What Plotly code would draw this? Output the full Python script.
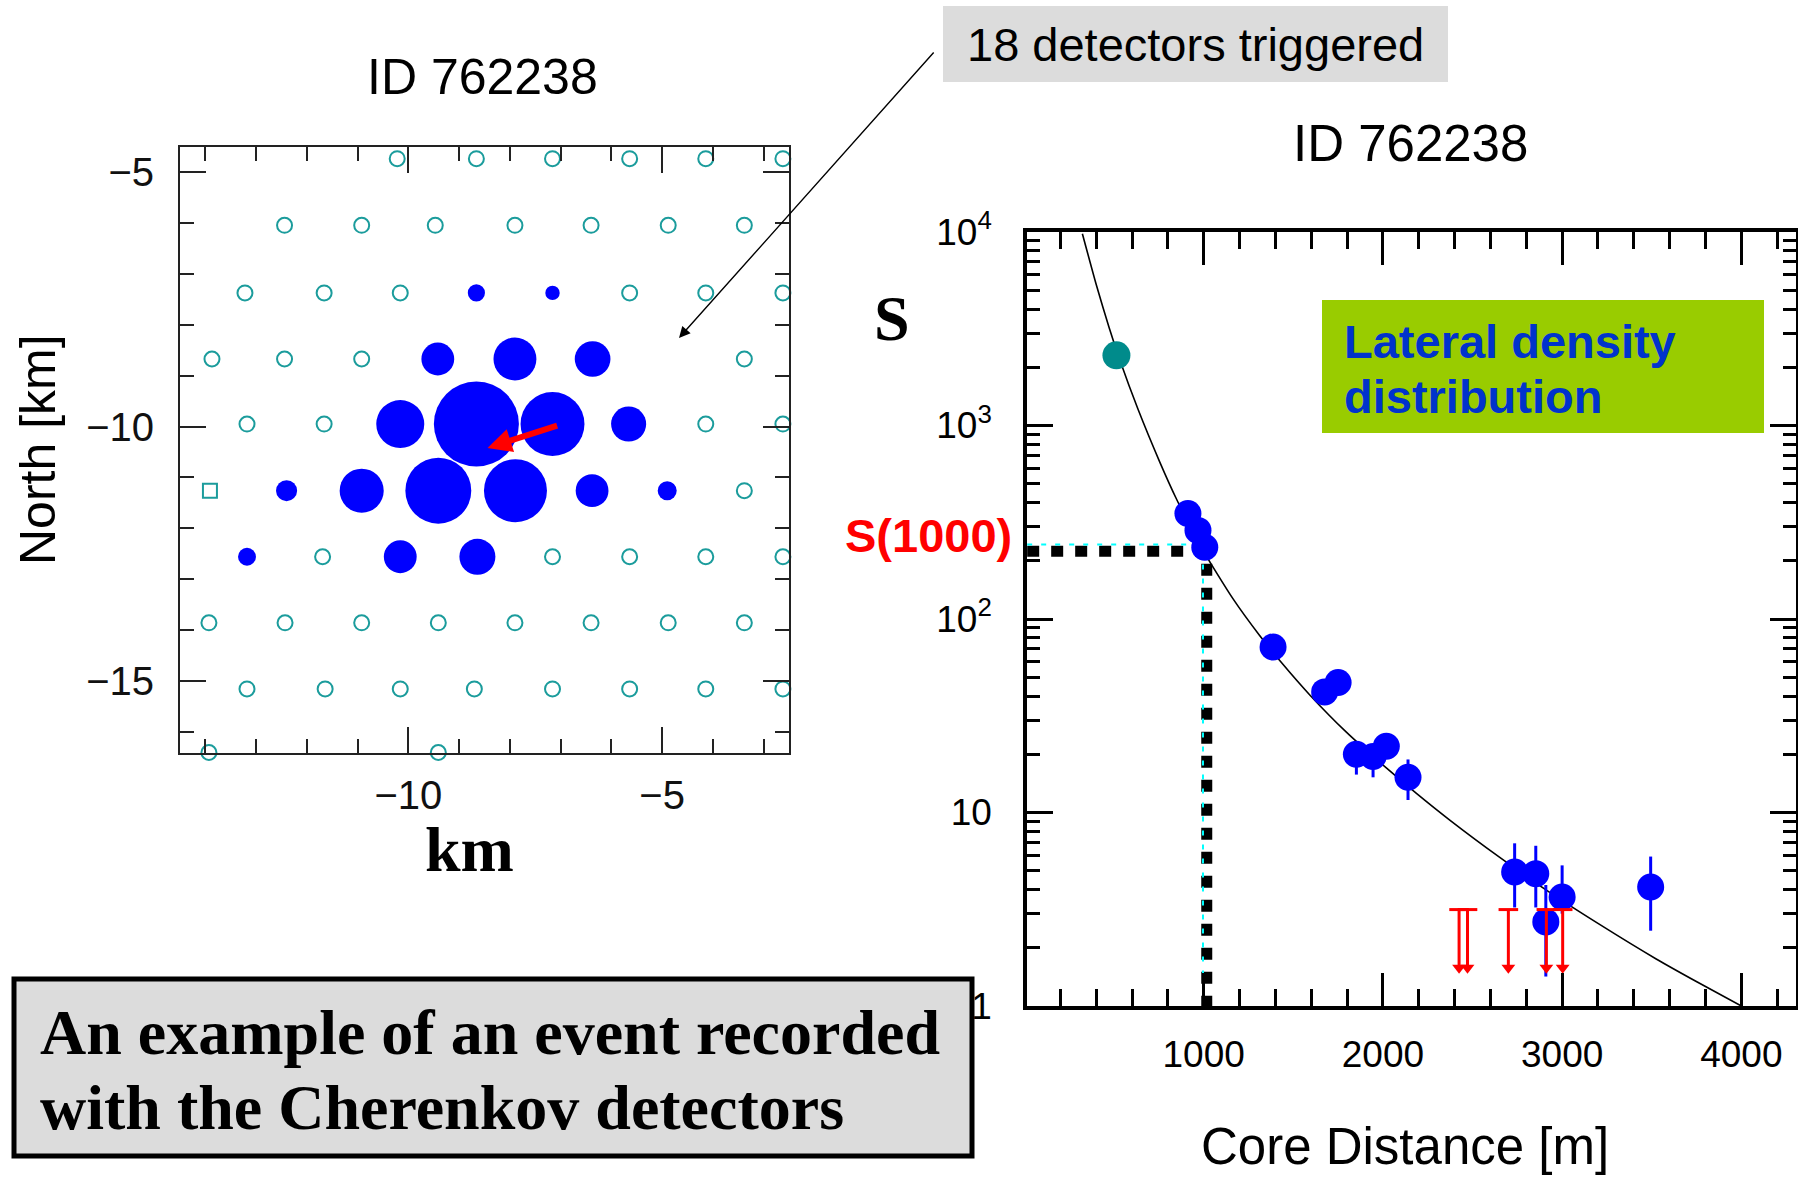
import math
import plotly.graph_objects as go

W, H = 1798, 1179

# ---------------- surface detector map (km) ----------------
idle_east = [-10.22, -8.66, -7.16, -5.64, -4.14, -2.62,
             -12.44, -10.92, -9.47, -7.90, -6.40, -4.88, -3.38,
             -13.22, -11.66, -10.16, -5.64, -4.14, -2.62,
             -13.87, -12.44, -10.92, -3.38,
             -13.18, -11.66, -4.14, -2.62,
             -3.38,
             -11.69, -7.16, -5.64, -4.14, -2.62,
             -13.93, -12.43, -10.92, -9.41, -7.90, -6.40, -4.88, -3.38,
             -13.18, -11.64, -10.16, -8.70, -7.16, -5.64, -4.14, -2.62,
             -13.93, -9.41]
idle_north = [-4.73] * 6 + [-6.04] * 7 + [-7.37] * 6 + [-8.67] * 4 + [-9.95] * 4 + \
             [-11.26] * 1 + [-12.56] * 5 + [-13.86] * 8 + [-15.16] * 8 + [-16.41] * 2
odd_east = [-13.91]
odd_north = [-11.26]

trig_east = [-8.66, -7.16,
             -9.42, -7.90, -6.37,
             -10.16, -8.66, -7.16, -5.66,
             -12.40, -10.92, -9.41, -7.89, -6.38, -4.90,
             -13.18, -10.16, -8.64]
trig_north = [-7.37] * 2 + [-8.67] * 3 + [-9.95] * 4 + [-11.26] * 6 + [-12.56] * 3
trig_vem = [2.5, 1.9,
            12, 33, 16,
            55, 2230, 270, 15,
            3.7, 37, 330, 246, 12, 3.0,
            2.7, 12, 16.5]

# shower axis direction (tail -> head, km)
axis_tail = (-7.04, -9.97)
axis_head = (-8.44, -10.42)

# ---------------- lateral distribution ----------------
sat_r = [513]
sat_s = [2306]

r_hit = [912, 968, 1006, 1387, 1675, 1750, 1852, 1945, 2019, 2140,
         2735, 2853, 2909, 3000, 3494]
s_hit = [351, 287, 235, 71.6, 42, 47, 20, 19.5, 22, 15.2,
         4.93, 4.83, 2.72, 3.66, 4.12]
s_err_up = [30, 25, 22, 7, 4, 4.5, 3, 3, 3, 3.6,
            2.0, 1.9, 1.5, 1.67, 1.8]
s_err_dn = [30, 25, 22, 7, 4, 4.5, 4.3, 4.3, 3, 3.6,
            1.7, 1.6, 1.3, 0.66, 1.67]

r_ul = [2425, 2472, 2700, 2912, 3003]
s_ul = [3.15, 3.15, 3.15, 3.15, 3.15]

fit_r = [323, 401, 472, 532, 633, 755, 848, 987, 1164, 1312, 1442, 1592,
         1796, 2019, 2187, 2373, 2652, 2912, 3209, 3525, 3754, 4000]
fit_s = [9800, 5321, 3206, 2178, 1216, 647, 417, 234, 127, 82.2, 58.3, 40.5,
         26.0, 17.0, 12.56, 9.14, 5.86, 3.97, 2.64, 1.75, 1.33, 1.0]

s1000_black = (1017, 224)
s1000_cyan = (996, 243)

x_tick_vals = [1000, 2000, 3000, 4000]
y_tick_vals = [1, 10, 100, 1000, 10000]
y_tick_text = ["1", "10", "10<sup>2</sup>", "10<sup>3</sup>", "10<sup>4</sup>"]

# ---------------- styling helpers ----------------
SANS = "Liberation Sans, Arial, sans-serif"
SERIF = "Liberation Serif, Times New Roman, serif"


def fx(p):
    return p / W


def fy(p):
    return 1 - p / H


def vem_to_diameter(v):
    return 8 + 23 * math.log10(v)


fig = go.Figure()

# map: idle detectors
fig.add_trace(go.Scatter(
    x=idle_east, y=idle_north, mode="markers", xaxis="x", yaxis="y",
    marker=dict(symbol="circle-open", size=15, color="#1b9c9c", opacity=1,
                line=dict(width=2.0, color="#1b9c9c")),
    cliponaxis=False, hoverinfo="skip", showlegend=False))
fig.add_trace(go.Scatter(
    x=odd_east, y=odd_north, mode="markers", xaxis="x", yaxis="y",
    marker=dict(symbol="square-open", size=14, color="#1b9c9c", opacity=1,
                line=dict(width=2.0, color="#1b9c9c")),
    cliponaxis=False, hoverinfo="skip", showlegend=False))
# map: triggered detectors, area grows with signal
fig.add_trace(go.Scatter(
    x=trig_east, y=trig_north, mode="markers", xaxis="x", yaxis="y",
    marker=dict(symbol="circle", size=[vem_to_diameter(v) for v in trig_vem],
                color="#0000ff", opacity=1, line=dict(width=0)),
    cliponaxis=False, hoverinfo="skip", showlegend=False))

# LDF: S(1000) guides
bx, by = s1000_black
fig.add_trace(go.Scatter(
    x=[15, bx, bx], y=[by, by, 1], mode="lines", xaxis="x2", yaxis="y2",
    line=dict(color="black", width=11, dash="12px,12px"),
    hoverinfo="skip", showlegend=False))
cx, cy = s1000_cyan
fig.add_trace(go.Scatter(
    x=[15, cx, cx], y=[cy, cy, 1], mode="lines", xaxis="x2", yaxis="y2",
    line=dict(color="#00ffff", width=2, dash="5px,9px"),
    hoverinfo="skip", showlegend=False))

# LDF: fitted lateral function
fig.add_trace(go.Scatter(
    x=fit_r, y=fit_s, mode="lines", xaxis="x2", yaxis="y2",
    line=dict(color="black", width=1.6, shape="spline", smoothing=0.6),
    hoverinfo="skip", showlegend=False))

# LDF: saturated station
fig.add_trace(go.Scatter(
    x=sat_r, y=sat_s, mode="markers", xaxis="x2", yaxis="y2",
    marker=dict(symbol="circle", size=28, color="#008b8b", opacity=1, line=dict(width=0)),
    error_y=dict(type="data", array=[250], arrayminus=[250], color="#008b8b", thickness=3, width=0),
    hoverinfo="skip", showlegend=False))

# LDF: triggered stations
fig.add_trace(go.Scatter(
    x=r_hit, y=s_hit, mode="markers", xaxis="x2", yaxis="y2",
    marker=dict(symbol="circle", size=27, color="#0000ff", opacity=1, line=dict(width=0)),
    error_y=dict(type="data", symmetric=False, array=s_err_up, arrayminus=s_err_dn,
                 color="#0000ff", thickness=3, width=0),
    hoverinfo="skip", showlegend=False))

# LDF: upper limits from silent stations
ARROW_DROP = 2.0
fig.add_trace(go.Scatter(
    x=r_ul, y=s_ul, mode="markers", xaxis="x2", yaxis="y2",
    marker=dict(symbol="line-ew-open", size=14, color="red", line=dict(width=3, color="red")),
    error_y=dict(type="data", symmetric=False, array=[0] * len(s_ul),
                 arrayminus=[s - s / ARROW_DROP for s in s_ul],
                 color="red", thickness=3, width=0),
    hoverinfo="skip", showlegend=False))
fig.add_trace(go.Scatter(
    x=r_ul, y=[s / ARROW_DROP for s in s_ul], mode="markers", xaxis="x2", yaxis="y2",
    marker=dict(symbol="triangle-down", size=12, color="red", line=dict(width=0)),
    hoverinfo="skip", showlegend=False))

# ---------------- axes ----------------
map_axis = dict(
    showgrid=False, zeroline=False, showline=True, linecolor="#222", linewidth=2,
    mirror="allticks", ticks="inside", ticklen=26, tickwidth=1.6, tickcolor="#222",
    tickfont=dict(family=SANS, size=40, color="#111"), automargin=False,
    minor=dict(ticks="inside", ticklen=14, tickwidth=1.6, tickcolor="#222", dtick=1, showgrid=False),
)
fig.update_layout(
    xaxis=dict(map_axis, domain=[fx(180), fx(789)], range=[-14.5, -2.5], anchor="y",
               tickmode="array", tickvals=[-10, -5], ticktext=["\u221210", "\u22125"],
               ticklabelstandoff=6),
    yaxis=dict(map_axis, domain=[fy(753), fy(147)], range=[-16.42, -4.5], anchor="x",
               tickmode="array", tickvals=[-15, -10, -5],
               ticktext=["\u221215", "\u221210", "\u22125"], ticklabelstandoff=16),
)

ldf_axis = dict(
    showgrid=False, zeroline=False, showline=True, linecolor="black", linewidth=3.5,
    mirror="allticks", ticks="inside", tickwidth=3, tickcolor="black",
    tickfont=dict(family=SANS, size=37, color="black"), automargin=False,
)
fig.update_layout(
    xaxis2=dict(ldf_axis, domain=[fx(1027), fx(1796)], range=[14, 4305], anchor="y2",
                tickmode="array", tickvals=x_tick_vals, ticklen=33, ticklabelstandoff=13,
                minor=dict(ticks="inside", ticklen=17, tickwidth=3, tickcolor="black",
                           tickmode="linear", tick0=0, dtick=200, showgrid=False)),
    yaxis2=dict(ldf_axis, type="log", domain=[fy(1006), fy(232)], range=[0, 4], anchor="x2",
                tickmode="array", tickvals=y_tick_vals, ticktext=y_tick_text, ticklen=26,
                ticklabelstandoff=24,
                minor=dict(ticks="inside", ticklen=13, tickwidth=3, tickcolor="black",
                           tickmode="array",
                           tickvals=[m * 10 ** k for k in range(4) for m in range(2, 10)],
                           showgrid=False)),
)

# ---------------- boxes ----------------
shapes = [
    dict(type="rect", xref="paper", yref="paper", x0=fx(943), x1=fx(1448), y0=fy(82), y1=fy(6),
         fillcolor="#dcdcdc", line=dict(width=0), layer="below"),
    dict(type="rect", xref="paper", yref="paper", x0=fx(1322), x1=fx(1764), y0=fy(433), y1=fy(300),
         fillcolor="#99cc00", line=dict(width=0), layer="above"),
    dict(type="rect", xref="paper", yref="paper", x0=fx(14), x1=fx(972), y0=fy(1156), y1=fy(979),
         fillcolor="#dcdcdc", line=dict(width=5, color="black"), layer="below"),
]


# ---------------- text ----------------
def label(text, x, y, size, family, color="black", bold=False, xanchor="center", angle=0):
    t = f"<b>{text}</b>" if bold else text
    return dict(text=t, x=fx(x), y=fy(y), xref="paper", yref="paper", showarrow=False,
                xanchor=xanchor, yanchor="middle", textangle=angle,
                font=dict(family=family, size=size, color=color))


annotations = [
    label("ID 762238", 482, 77, 50, SANS),
    label("ID 762238", 1410, 143, 51, SANS),
    label("North [km]", 38, 450, 50, SANS, angle=-90),
    label("km", 470, 849, 64, SERIF, bold=True),
    label("S", 892, 319, 64, SERIF, bold=True),
    label("S(1000)", 929, 535, 47, SANS, color="red", bold=True),
    label("18 detectors triggered", 1195, 44, 47, SANS),
    label("Lateral density", 1342, 341, 47, SANS, color="#0033cc", bold=True, xanchor="left"),
    label("distribution", 1342, 396, 47, SANS, color="#0033cc", bold=True, xanchor="left"),
    label("An example of an event recorded", 38, 1032, 64, SERIF, bold=True, xanchor="left"),
    label("with the Cherenkov detectors", 38, 1107, 64, SERIF, bold=True, xanchor="left"),
    label("Core Distance [m]", 1405, 1146, 51, SANS),
    # pointer from the caption into the map
    dict(text="", x=fx(679), y=fy(338), xref="paper", yref="paper", showarrow=True,
         ax=256, ay=-287, arrowhead=2, arrowsize=1.6, arrowwidth=1.4, arrowcolor="black"),
    # reconstructed shower axis
    dict(text="", x=axis_head[0], y=axis_head[1], xref="x", yref="y",
         ax=axis_tail[0], ay=axis_tail[1], axref="x", ayref="y", showarrow=True,
         arrowhead=2, arrowsize=0.8, arrowwidth=6, arrowcolor="red"),
]

fig.update_layout(
    width=W, height=H, margin=dict(l=0, r=0, t=0, b=0, pad=0, autoexpand=False),
    paper_bgcolor="white", plot_bgcolor="rgba(0,0,0,0)",
    shapes=shapes, annotations=annotations, showlegend=False,
)

fig.write_html("out.html")
